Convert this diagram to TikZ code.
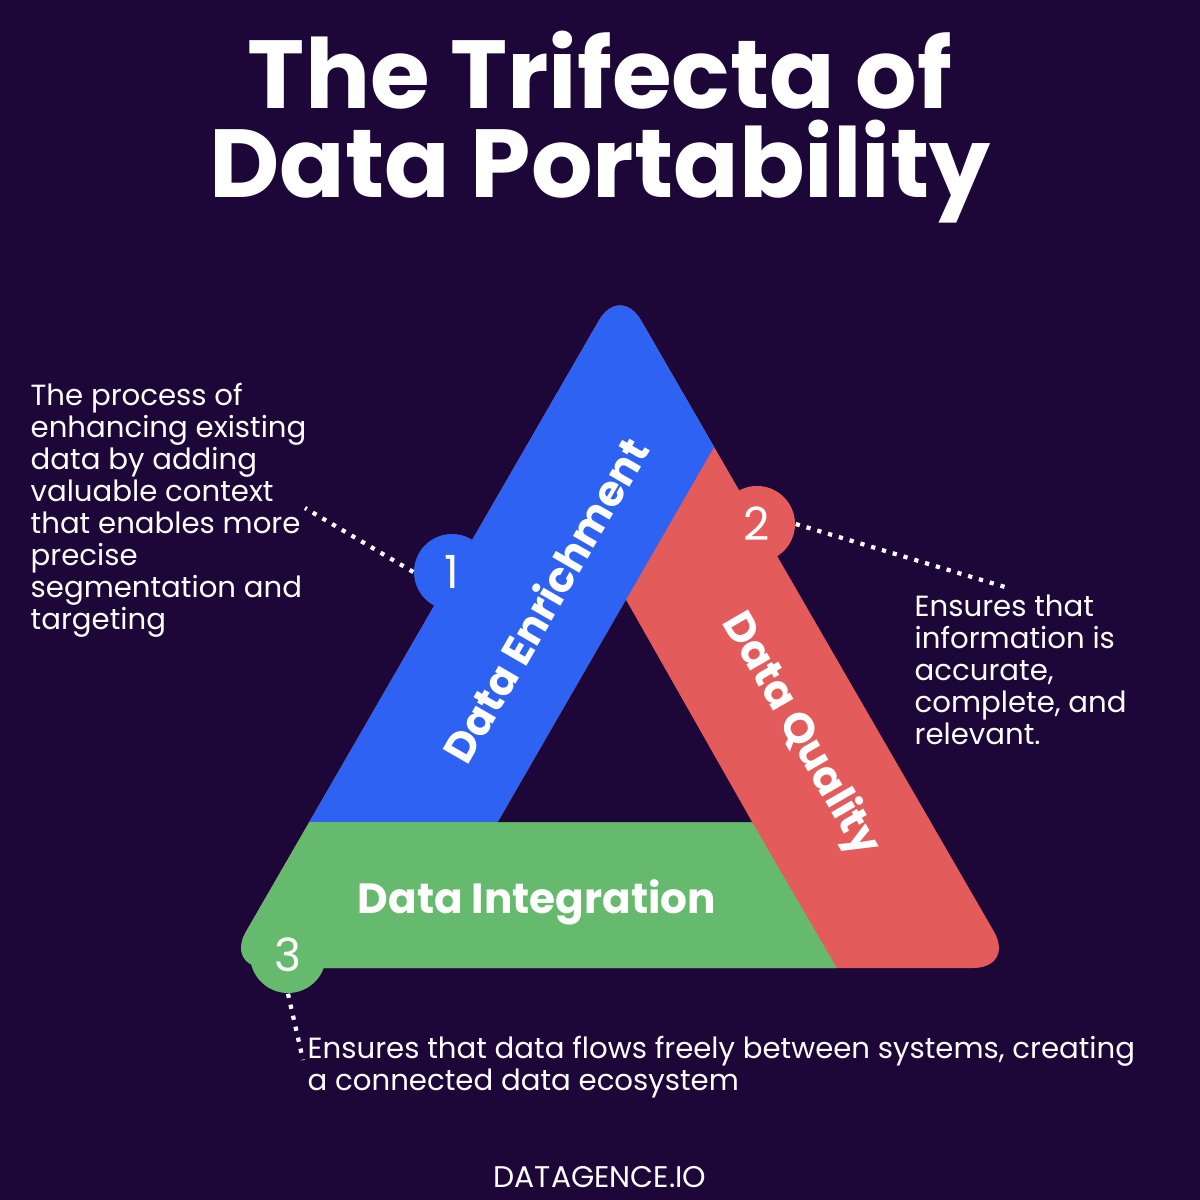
\documentclass[tikz,border=0pt]{standalone}
\usepackage{fontspec}
\setmainfont{Poppins}
\usepackage{tikz}
\definecolor{bgdark}{HTML}{1D0638}
\definecolor{enrichblue}{HTML}{2D62F2}
\definecolor{qualityred}{HTML}{E45B5B}
\definecolor{integgreen}{HTML}{66BA6D}
\tikzset{
  numdot/.style={circle, minimum size=0.76cm, inner sep=0pt, text=white, font=\fontsize{13}{13}\selectfont},
  bandlabel/.style={text=white, font=\bfseries\fontsize{12}{12}\selectfont},
  bodytext/.style={text=white, align=left, anchor=north west, inner sep=0pt, font=\fontsize{8.3}{9.1}\selectfont},
  dotline/.style={white, dotted, line width=1.2pt}
}

\begin{document}
\begin{tikzpicture}[x=0.01cm,y=-0.01cm]
\fill[bgdark] (0,0) rectangle (1200,1200);
\useasboundingbox (0,0) rectangle (1200,1200);
% title
\node[text=white, font=\bfseries\fontsize{27.5}{27.5}\selectfont] (title1) at (600,70) {The Trifecta of};
\node[text=white, font=\bfseries\fontsize{27.5}{27.5}\selectfont] (title2) at (600,172) {Data Portability};
% the triangle bands
\begin{scope}
\clip[rounded corners=12pt] (620,284) -- (1015,968) -- (225,968) -- cycle;
\fill[qualityred] (0,200) rectangle (1200,1100);
\fill[enrichblue] (498,822) -- (718,440) -- (900,124) -- (0,124) -- (0,822) -- cycle;
\fill[integgreen] (0,822) -- (752,822) -- (900,1077) -- (0,1077) -- cycle;
\fill[bgdark] (626,600) -- (498,822) -- (752,822) -- cycle;
\end{scope}
\node[bandlabel, rotate=60] (enrich) at (545,600) {Data Enrichment};
\node[bandlabel, rotate=-60] (quality) at (800,735) {Data Quality};
\node[bandlabel] (integ) at (537,902) {Data Integration};
% numbered dots
\node[numdot, fill=enrichblue] (one) at (452,572) {1};
\node[numdot, fill=qualityred] (two) at (757,524) {2};
\node[numdot, fill=integgreen] (three) at (288,955) {3};
% descriptions
\node[bodytext] (desc1) at (30,382) {The process of\\enhancing existing\\data by adding\\valuable context\\that enables more\\precise\\segmentation and\\targeting};
\node[bodytext] (desc2) at (914,594) {Ensures that\\information is\\accurate,\\complete, and\\relevant.};
\node[bodytext] (desc3) at (307,1035) {Ensures that data flows freely between systems, creating\\a connected data ecosystem};
\coordinate (end1) at (305,508);
\coordinate (end2) at (1005,587);
\coordinate (end3) at (303,1060);
\draw[dotline] (one.west) -- (end1);
\draw[dotline] (two.east) -- (end2);
\draw[dotline] (three.south) -- (end3);
% footer
\node[text=white, font=\fontsize{8.5}{8.5}\selectfont] (foot) at (600,1177) {DATAGENCE.IO};
\end{tikzpicture}
\end{document}
